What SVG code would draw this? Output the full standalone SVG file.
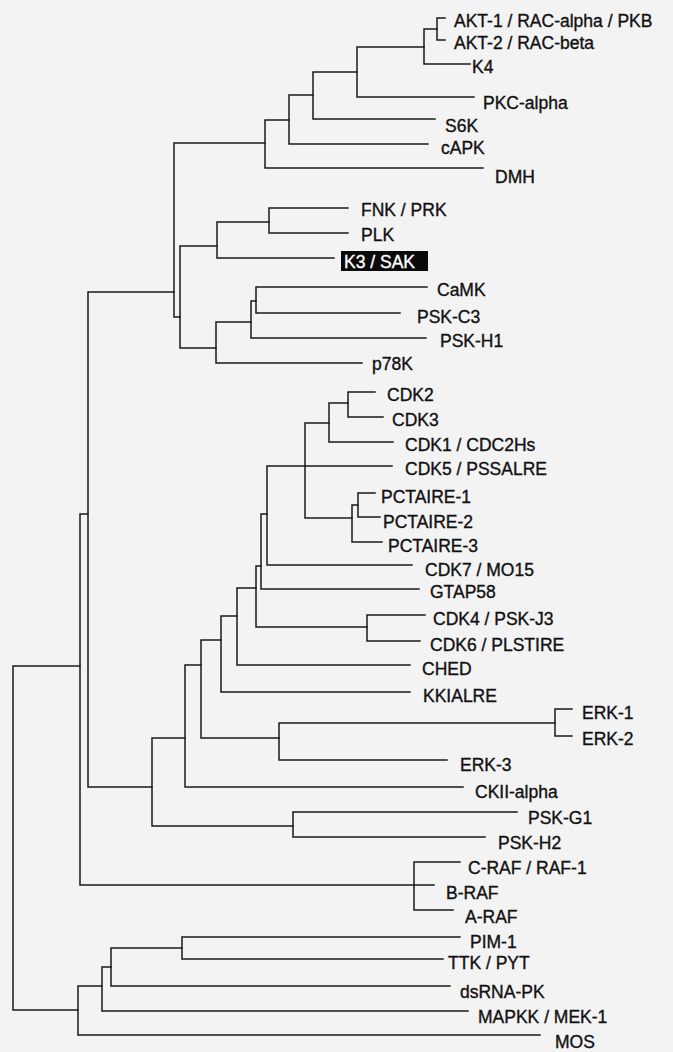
<svg xmlns="http://www.w3.org/2000/svg" width="673" height="1052" viewBox="0 0 673 1052">
<style>
.bg{fill:#f3f3f3}
.ln{fill:none;stroke:#1a1a1a;stroke-width:1.5;stroke-linecap:square}
.lb{font-family:"Liberation Sans",Arial,sans-serif;font-size:17.5px;fill:#111;stroke:#111;stroke-width:0.35}
.inv{fill:#fff;stroke:#fff}
.box{fill:#0a0a0a}
</style>
<rect class="bg" x="0" y="0" width="673" height="1052"/>
<g id="connectors" class="ln">
<path d="M13 666V1010M13 666H80M13 1010H78"/>
<path d="M80 514V885M80 514H88M80 885H434"/>
<path d="M414 862V910M414 862H460M414 910H453"/>
<path d="M88 292V787M88 292H174M88 787H152"/>
<path d="M174 143V317M174 317H180M174 143H265"/>
<path d="M180 246V348M180 246H217M180 348H216"/>
<path d="M217 222V258M217 222H269M217 258H334"/>
<path d="M269 208V233M269 208H348M269 233H348"/>
<path d="M216 322V363M216 322H251M216 363H362"/>
<path d="M251 301V338M251 301H256M251 338H426"/>
<path d="M256 287V313M256 287H427M256 313H400"/>
<path d="M265 120V168M265 120H289M265 168H483"/>
<path d="M289 95V144M289 95H313M289 144H428"/>
<path d="M313 72V119M313 72H357M313 119H435"/>
<path d="M357 47V97M357 47H424M357 97H474"/>
<path d="M424 29V64M424 29H437M424 64H470"/>
<path d="M437 18V40M437 18H445M437 40H445"/>
<path d="M152 738V826M152 738H185M152 826H293"/>
<path d="M293 812V837M293 812H517M293 837H485"/>
<path d="M185 665V787M185 665H201M185 787H463"/>
<path d="M201 640V738M201 640H221M201 738H279"/>
<path d="M279 723V760M279 723H555M279 760H447"/>
<path d="M555 709V736M555 709H572M555 736H572"/>
<path d="M221 616V692M221 616H237M221 692H410"/>
<path d="M237 588V665M237 588H256M237 665H410"/>
<path d="M256 566V627M256 566H261M256 627H367"/>
<path d="M367 615V641M367 615H425M367 641H420"/>
<path d="M261 514V589M261 514H267M261 589H419"/>
<path d="M267 466V565M267 466H392M267 565H412"/>
<path d="M305 423V518M305 423H329M305 518H352"/>
<path d="M329 403V442M329 403H348M329 442H393"/>
<path d="M348 392V417M348 392H375M348 417H383"/>
<path d="M352 505V542M352 505H358M352 542H382"/>
<path d="M358 493V517M358 493H375M358 517H380"/>
<path d="M78 986V1035M78 986H102M78 1035H540"/>
<path d="M102 967V1011M102 967H111M102 1011H468"/>
<path d="M111 948V986M111 948H182M111 986H450"/>
<path d="M182 937V959M182 937H460M182 959H443"/>
</g>
<g id="akt1"><text class="lb" x="454" y="27">AKT-1 / RAC-alpha / PKB</text></g>
<g id="akt2"><text class="lb" x="454" y="49">AKT-2 / RAC-beta</text></g>
<g id="k4"><text class="lb" x="472" y="73">K4</text></g>
<g id="pkc"><text class="lb" x="483" y="109">PKC-alpha</text></g>
<g id="s6k"><text class="lb" x="445" y="132">S6K</text></g>
<g id="capk"><text class="lb" x="441" y="154">cAPK</text></g>
<g id="dmh"><text class="lb" x="495" y="183">DMH</text></g>
<g id="fnk"><text class="lb" x="361" y="216">FNK / PRK</text></g>
<g id="plk"><text class="lb" x="361" y="241">PLK</text></g>
<g id="k3"><rect class="box" x="341" y="251" width="87" height="20"/><text class="lb inv" x="344" y="268">K3 / SAK</text></g>
<g id="camk"><text class="lb" x="437" y="296">CaMK</text></g>
<g id="pskc3"><text class="lb" x="417" y="323">PSK-C3</text></g>
<g id="pskh1"><text class="lb" x="440" y="347">PSK-H1</text></g>
<g id="p78k"><text class="lb" x="372" y="370">p78K</text></g>
<g id="cdk2"><text class="lb" x="387" y="401">CDK2</text></g>
<g id="cdk3"><text class="lb" x="392" y="426">CDK3</text></g>
<g id="cdk1"><text class="lb" x="405" y="451">CDK1 / CDC2Hs</text></g>
<g id="cdk5"><text class="lb" x="405" y="475">CDK5 / PSSALRE</text></g>
<g id="pct1"><text class="lb" x="381" y="503">PCTAIRE-1</text></g>
<g id="pct2"><text class="lb" x="383" y="528">PCTAIRE-2</text></g>
<g id="pct3"><text class="lb" x="388" y="552">PCTAIRE-3</text></g>
<g id="cdk7"><text class="lb" x="425" y="576">CDK7 / MO15</text></g>
<g id="gtap58"><text class="lb" x="430" y="598">GTAP58</text></g>
<g id="cdk4"><text class="lb" x="433" y="625">CDK4 / PSK-J3</text></g>
<g id="cdk6"><text class="lb" x="430" y="651">CDK6 / PLSTIRE</text></g>
<g id="ched"><text class="lb" x="422" y="675">CHED</text></g>
<g id="kkialre"><text class="lb" x="423" y="702">KKIALRE</text></g>
<g id="erk1"><text class="lb" x="582" y="719">ERK-1</text></g>
<g id="erk2"><text class="lb" x="582" y="745">ERK-2</text></g>
<g id="erk3"><text class="lb" x="460" y="771">ERK-3</text></g>
<g id="ckii"><text class="lb" x="475" y="798">CKII-alpha</text></g>
<g id="pskg1"><text class="lb" x="528" y="824">PSK-G1</text></g>
<g id="pskh2"><text class="lb" x="498" y="849">PSK-H2</text></g>
<g id="craf"><text class="lb" x="468" y="874">C-RAF / RAF-1</text></g>
<g id="braf"><text class="lb" x="446" y="899">B-RAF</text></g>
<g id="araf"><text class="lb" x="465" y="923">A-RAF</text></g>
<g id="pim1"><text class="lb" x="470" y="948">PIM-1</text></g>
<g id="ttk"><text class="lb" x="448" y="969">TTK / PYT</text></g>
<g id="dsrna"><text class="lb" x="460" y="998">dsRNA-PK</text></g>
<g id="mapkk"><text class="lb" x="478" y="1023">MAPKK / MEK-1</text></g>
<g id="mos"><text class="lb" x="555" y="1048">MOS</text></g>
</svg>
